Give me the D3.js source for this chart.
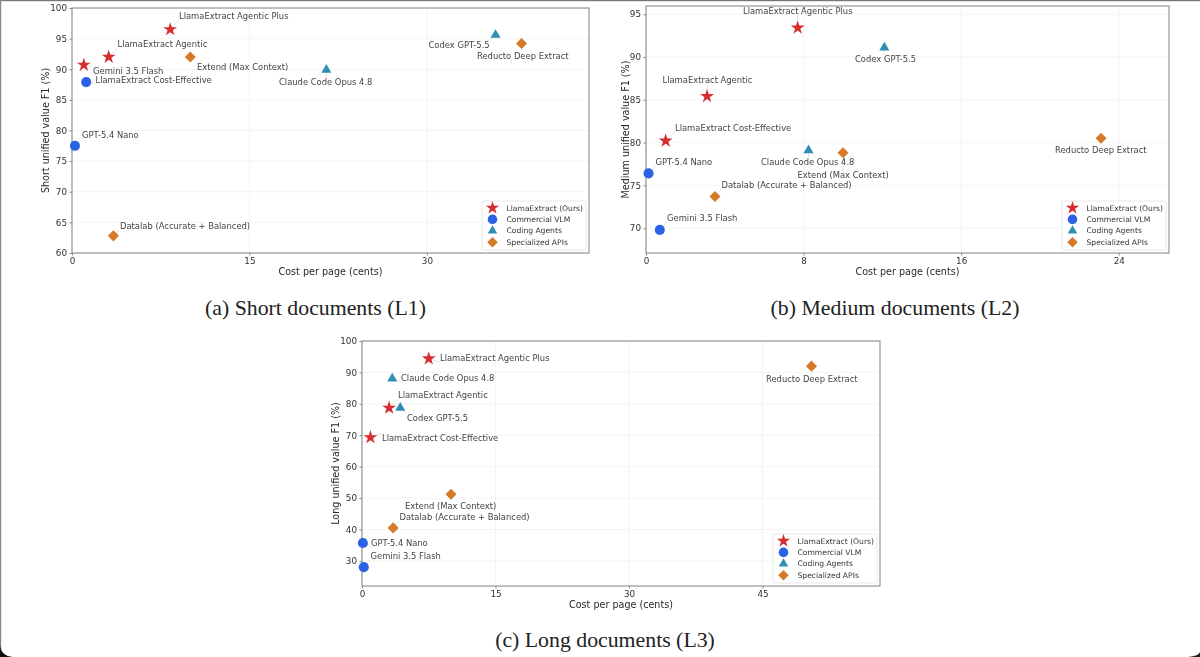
<!DOCTYPE html>
<html><head><meta charset="utf-8">
<script src="https://cdn.jsdelivr.net/npm/d3@7"></script>
<style>html,body{margin:0;padding:0;background:#fff;overflow:hidden}svg{display:block}</style>
</head><body><svg id="c" width="1200" height="657"></svg>
<script>
// ---------- data ----------
const groupNames = ["LlamaExtract (Ours)", "Commercial VLM", "Coding Agents", "Specialized APIs"];
const groupColors = ["#d62f2f", "#2b62e3", "#2e8fb5", "#d67a2a"];
const groupSymbols = [d3.symbolStar, d3.symbolCircle, d3.symbolTriangle, d3.symbolDiamond2];

const shortLabels = ["LlamaExtract Agentic Plus","LlamaExtract Agentic","Gemini 3.5 Flash","LlamaExtract Cost-Effective","GPT-5.4 Nano","Datalab (Accurate + Balanced)","Extend (Max Context)","Claude Code Opus 4.8","Codex GPT-5.5","Reducto Deep Extract"];
const shortGroup = [0,0,0,1,1,3,3,2,2,3];
const shortCost = [8.3,3.1,1.0,1.2,0.25,3.5,10.0,21.5,35.8,38.0];
const shortF1 = [96.5,92.0,90.7,87.9,77.5,62.8,92.0,89.9,95.6,94.2];

const mediumLabels = ["LlamaExtract Agentic Plus","Codex GPT-5.5","LlamaExtract Agentic","LlamaExtract Cost-Effective","GPT-5.4 Nano","Claude Code Opus 4.8","Extend (Max Context)","Reducto Deep Extract","Datalab (Accurate + Balanced)","Gemini 3.5 Flash"];
const mediumGroup = [0,2,0,0,1,2,3,3,3,1];
const mediumCost = [7.7,12.1,3.1,1.0,0.13,8.25,10.0,23.1,3.5,0.7];
const mediumF1 = [93.4,91.1,85.4,80.2,76.4,79.1,78.8,80.5,73.7,69.8];

const longLabels = ["LlamaExtract Agentic Plus","Claude Code Opus 4.8","LlamaExtract Agentic","Codex GPT-5.5","LlamaExtract Cost-Effective","Extend (Max Context)","Datalab (Accurate + Balanced)","GPT-5.4 Nano","Gemini 3.5 Flash","Reducto Deep Extract"];
const longGroup = [0,2,0,2,0,3,3,1,1,3];
const longCost = [7.5,3.4,3.05,4.3,0.95,10.0,3.5,0.1,0.2,50.5];
const longF1 = [94.4,88.0,78.7,78.7,69.3,51.2,40.5,35.7,28.0,92.0];

const shortXTicks = [0,15,30], shortYTicks = [60,65,70,75,80,85,90,95,100];
const mediumXTicks = [0,8,16,24], mediumYTicks = [70,75,80,85,90,95];
const longXTicks = [0,15,30,45], longYTicks = [30,40,50,60,70,80,90,100];

// ---------- layout (separate from values) ----------
const shortLabelPos = [[179,16],[117.5,44],[93,71],[95.5,80],[82,135],[120,226],[197,67],[279,82],[428.5,45],[477,56]];
const mediumLabelPos = [[743,11],[855,59],[662.5,80],[675,128],[655.5,162],[761,161.5],[797.5,175],[1055,150],[721.5,184.5],[667,218]];
const longLabelPos = [[440,358],[401,378],[398,395],[407,418],[382,437.5],[405,506],[399.5,517],[371,542.5],[370.5,556],[766,378.5]];

const panels = [
 {box:[72,589,8,253], xd:[0,43.7], yd:[60,100], xt:shortXTicks, yt:shortYTicks, yl:"Short unified value F1 (%)", ylx:45,
  names:shortLabels, g:shortGroup, xs:shortCost, ys:shortF1, pos:shortLabelPos, cap:"(a) Short documents (L1)", capx:315.5, capy:308},
 {box:[646,1169,6,253], xd:[0,26.55], yd:[67.1,95.95], xt:mediumXTicks, yt:mediumYTicks, yl:"Medium unified value F1 (%)", ylx:625,
  names:mediumLabels, g:mediumGroup, xs:mediumCost, ys:mediumF1, pos:mediumLabelPos, cap:"(b) Medium documents (L2)", capx:895, capy:308},
 {box:[362,880,341,586], xd:[0,58.2], yd:[22,100], xt:longXTicks, yt:longYTicks, yl:"Long unified value F1 (%)", ylx:335,
  names:longLabels, g:longGroup, xs:longCost, ys:longF1, pos:longLabelPos, cap:"(c) Long documents (L3)", capx:605, capy:640}
];

const svg = d3.select("#c");
const FONT = "'DejaVu Sans', sans-serif";
const symSize = [60,80,44,78];
const legendScale = 0.9;
const sym = (i,k=1) => d3.symbol().type(groupSymbols[i]).size(symSize[i]*k)();

const defs = svg.append("defs");
defs.append("filter").attr("id","soft").attr("x","-5%").attr("y","-5%").attr("width","110%").attr("height","110%")
  .append("feGaussianBlur").attr("stdDeviation",0.3);

// screenshot frame
svg.append("rect").attr("width",1200).attr("height",1.2).attr("fill","#777");
svg.append("rect").attr("width",1.2).attr("height",657).attr("fill","#888");
svg.append("path").attr("d","M0 645 Q1 656 13 657 L0 657Z").attr("fill","#111");
svg.append("path").attr("d","M1200 652 Q1199 656 1188 657 L1200 657Z").attr("fill","#222");

panels.forEach(p=>{
  const [l,r,t,b]=p.box;
  const x=d3.scaleLinear().domain(p.xd).range([l,r]);
  const y=d3.scaleLinear().domain(p.yd).range([b,t]);
  const g=svg.append("g").attr("filter","url(#soft)");
  // grid
  g.append("g").selectAll("line").data(p.xt).join("line")
    .attr("x1",d=>x(d)).attr("x2",d=>x(d)).attr("y1",t).attr("y2",b).attr("stroke","#f1f1f1").attr("stroke-width",0.8);
  g.append("g").selectAll("line").data(p.yt).join("line")
    .attr("y1",d=>y(d)).attr("y2",d=>y(d)).attr("x1",l).attr("x2",r).attr("stroke","#f1f1f1").attr("stroke-width",0.8);
  // axes
  const ax=g.append("g").attr("transform",`translate(0,${b})`).call(d3.axisBottom(x).tickValues(p.xt).tickSize(2.5).tickPadding(2.5).tickFormat(d3.format("d")));
  const ay=g.append("g").attr("transform",`translate(${l},0)`).call(d3.axisLeft(y).tickValues(p.yt).tickSize(2.5).tickPadding(2.5).tickFormat(d3.format("d")));
  [ax,ay].forEach(a=>{
    a.select(".domain").remove();
    a.selectAll("line").attr("stroke","#555").attr("stroke-width",0.7);
    a.selectAll("text").attr("font-family",FONT).attr("font-size",8.8).attr("fill","#333");
  });
  g.append("rect").attr("x",l).attr("y",t).attr("width",r-l).attr("height",b-t).attr("fill","none").attr("stroke","#8c8c8c").attr("stroke-width",1.1);
  // axis titles
  g.append("text").attr("x",(l+r)/2).attr("y",b+21.5).attr("text-anchor","middle").attr("font-family",FONT).attr("font-size",9.6).attr("fill","#2a2a2a").text("Cost per page (cents)");
  g.append("text").attr("transform",`translate(${p.ylx},${(t+b)/2}) rotate(-90)`).attr("text-anchor","middle").attr("dominant-baseline","central").attr("font-family",FONT).attr("font-size",9.6).attr("fill","#2a2a2a").text(p.yl);
  // leaders
  g.append("g").selectAll("line").data(p.names).join("line")
    .attr("x1",(d,i)=>x(p.xs[i])).attr("y1",(d,i)=>y(p.ys[i]))
    .attr("x2",(d,i)=>{const px=x(p.xs[i]),lx=p.pos[i][0],w=d.length*4.7;return Math.max(lx,Math.min(px,lx+w));})
    .attr("y2",(d,i)=>p.pos[i][1]+(p.pos[i][1]<y(p.ys[i])?4:-4))
    .attr("stroke","#d8d8d8").attr("stroke-width",0.7);
  // marks
  g.append("g").selectAll("path").data(p.names).join("path")
    .attr("d",(d,i)=>sym(p.g[i])).attr("transform",(d,i)=>`translate(${x(p.xs[i])},${y(p.ys[i])})`)
    .attr("fill",(d,i)=>groupColors[p.g[i]]);
  // labels
  g.append("g").selectAll("text").data(p.names).join("text")
    .attr("x",(d,i)=>p.pos[i][0]).attr("y",(d,i)=>p.pos[i][1]).attr("dominant-baseline","central")
    .attr("font-family",FONT).attr("font-size",8.4).attr("fill","#444").text(d=>d);
  // legend
  const lw=104,lh=49, lx=r-3-lw, ly=b-3-lh;
  const lg=g.append("g").attr("transform",`translate(${lx},${ly})`);
  lg.append("rect").attr("width",lw).attr("height",lh).attr("rx",2).attr("fill","#fff").attr("stroke","#e2e2e2").attr("stroke-width",0.8);
  const row=lg.selectAll("g").data(groupNames).join("g").attr("transform",(d,i)=>`translate(0,${7+i*11.4})`);
  row.append("path").attr("d",(d,i)=>sym(i,legendScale)).attr("transform","translate(10.5,0)").attr("fill",(d,i)=>groupColors[i]);
  row.append("text").attr("x",24.5).attr("dominant-baseline","central").attr("font-family",FONT).attr("font-size",7.6).attr("fill","#333").text(d=>d);
  // caption
  svg.append("text").attr("x",p.capx).attr("y",p.capy).attr("text-anchor","middle").attr("dominant-baseline","central").attr("font-family","'Liberation Serif', serif").attr("font-size",21.8).attr("fill","#222").text(p.cap);
});
</script></body></html>
